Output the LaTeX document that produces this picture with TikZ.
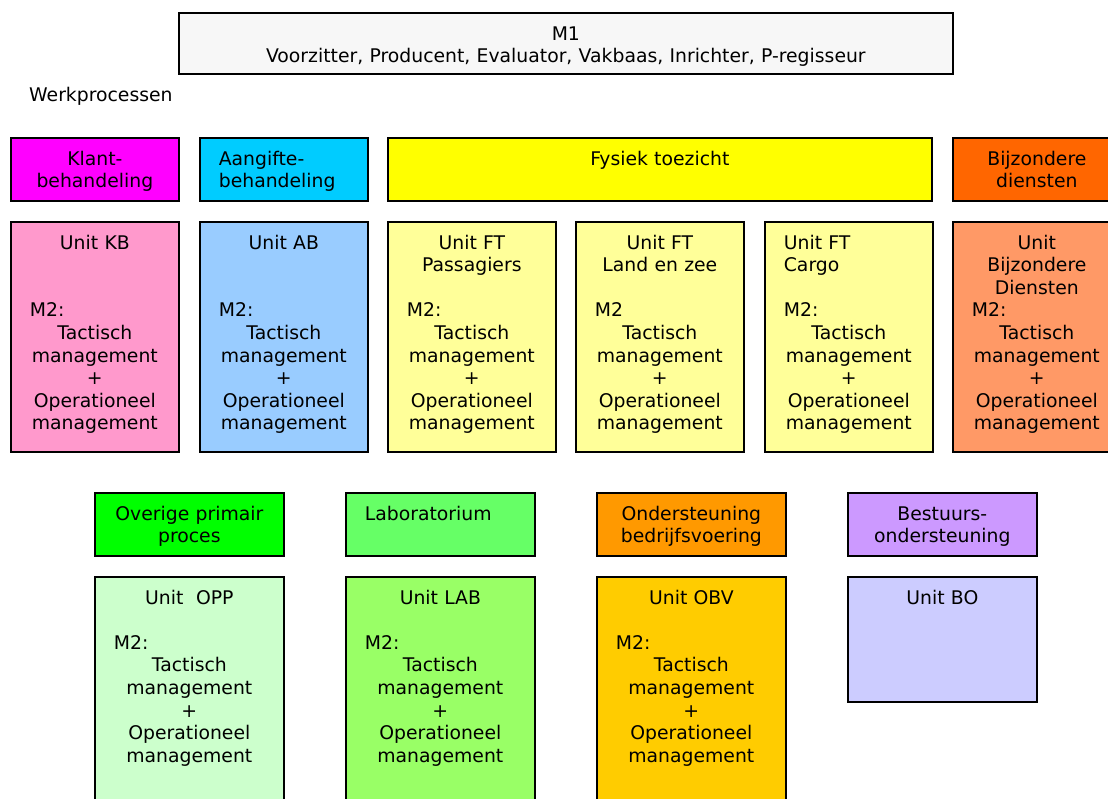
\documentclass[tikz,border=0pt]{standalone}
\usepackage{fontspec}
\setmainfont{DejaVu Sans}
\usepackage{xcolor}
\definecolor{mgrey}{HTML}{F7F7F7}
\definecolor{klant}{HTML}{FF00FF}
\definecolor{aang}{HTML}{00CCFF}
\definecolor{fysiek}{HTML}{FFFF00}
\definecolor{bijz}{HTML}{FF6600}
\definecolor{klantu}{HTML}{FF99CC}
\definecolor{aangu}{HTML}{99CCFF}
\definecolor{fysieku}{HTML}{FFFF99}
\definecolor{bijzu}{HTML}{FF9966}
\definecolor{overig}{HTML}{00FF00}
\definecolor{lab}{HTML}{66FF66}
\definecolor{onder}{HTML}{FF9900}
\definecolor{bestuur}{HTML}{CC99FF}
\definecolor{overigu}{HTML}{CCFFCC}
\definecolor{labu}{HTML}{99FF66}
\definecolor{onderu}{HTML}{FFCC00}
\definecolor{bestuuru}{HTML}{CCCCFF}
\tikzset{
  box/.style={draw=black, line width=1.7pt, anchor=north west, inner sep=0pt},
  hdrbox/.style={box, minimum height=63pt},
  unitbox/.style={box, minimum height=230pt},
  txt/.style={anchor=base, align=center, inner sep=0pt, text width=#1,
    font=\fontsize{18.8}{22.6}\selectfont},
  txt/.default=130pt,
}
\newcommand\lft[1]{\makebox[\linewidth][l]{#1}}
\newcommand\mgmt{Tactisch\\management\\+\\Operationeel\\management}

\begin{document}
\begin{tikzpicture}[x=1pt, y=-1pt]
  \useasboundingbox (0,0) rectangle (1108,798);

  % top
  \node[box, fill=mgrey, minimum width=774pt, minimum height=61pt] (m1) at (178,12) {};
  \node[txt=700pt] (m1t) at ([yshift=-28pt]m1.north) {M1\\Voorzitter, Producent, Evaluator, Vakbaas, Inrichter, P-regisseur};
  \node[txt=200pt, align=left, anchor=base west] (werk) at (29,101) {Werkprocessen};

  % werkprocessen
  \node[hdrbox, fill=klant, minimum width=168pt] (kh) at (10,137) {};
  \node[hdrbox, fill=aang, minimum width=168pt] (ah) at (199,137) {};
  \node[hdrbox, fill=fysiek, minimum width=544pt] (fh) at (387,137) {};
  \node[hdrbox, fill=bijz, minimum width=168pt] (bh) at (952,137) {};
  \node[txt] (kht) at ([yshift=-28pt]kh.north) {Klant-\\behandeling};
  \node[txt, align=left] (aht) at ([yshift=-28pt]ah.north) {Aangifte-\\behandeling};
  \node[txt=400pt] (fht) at ([yshift=-28pt]fh.north) {Fysiek toezicht};
  \node[txt] (bht) at ([yshift=-28pt]bh.north) {Bijzondere\\diensten};

  % units
  \node[unitbox, fill=klantu, minimum width=168pt] (ku) at (10,221) {};
  \node[unitbox, fill=aangu, minimum width=168pt] (au) at (199,221) {};
  \node[unitbox, fill=fysieku, minimum width=168pt] (fpu) at (387,221) {};
  \node[unitbox, fill=fysieku, minimum width=168pt] (flu) at (575,221) {};
  \node[unitbox, fill=fysieku, minimum width=168pt] (fcu) at (764,221) {};
  \node[unitbox, fill=bijzu, minimum width=168pt] (bu) at (952,221) {};
  \node[txt] (kut) at ([yshift=-28pt]ku.north) {Unit KB\\~\\~\\\lft{M2:}\\\mgmt};
  \node[txt] (aut) at ([yshift=-28pt]au.north) {Unit AB\\~\\~\\\lft{M2:}\\\mgmt};
  \node[txt] (fput) at ([yshift=-28pt]fpu.north) {Unit FT\\Passagiers\\~\\\lft{M2:}\\\mgmt};
  \node[txt] (flut) at ([yshift=-28pt]flu.north) {Unit FT\\Land en zee\\~\\\lft{M2}\\\mgmt};
  \node[txt] (fcut) at ([yshift=-28pt]fcu.north) {\lft{Unit FT}\\\lft{Cargo}\\~\\\lft{M2:}\\\mgmt};
  \node[txt] (but) at ([yshift=-28pt]bu.north) {Unit\\Bijzondere\\Diensten\\\lft{M2:}\\\mgmt};

  % overige processen
  \node[hdrbox, fill=overig, minimum width=189pt] (oh) at (94,492) {};
  \node[hdrbox, fill=lab, minimum width=189pt] (lh) at (345,492) {};
  \node[hdrbox, fill=onder, minimum width=189pt] (sh) at (596,492) {};
  \node[hdrbox, fill=bestuur, minimum width=189pt] (bsh) at (847,492) {};
  \node[txt=151pt] (oht) at ([yshift=-28pt]oh.north) {Overige primair\\proces};
  \node[txt=151pt, align=left] (lht) at ([yshift=-28pt]lh.north) {Laboratorium};
  \node[txt=151pt] (sht) at ([yshift=-28pt]sh.north) {Ondersteuning\\bedrijfsvoering};
  \node[txt=151pt] (bsht) at ([yshift=-28pt]bsh.north) {Bestuurs-\\ondersteuning};

  \node[unitbox, fill=overigu, minimum width=189pt, minimum height=240pt] (ou) at (94,576) {};
  \node[unitbox, fill=labu, minimum width=189pt, minimum height=240pt] (lu) at (345,576) {};
  \node[unitbox, fill=onderu, minimum width=189pt, minimum height=240pt] (su) at (596,576) {};
  \node[unitbox, fill=bestuuru, minimum width=189pt, minimum height=125pt] (bsu) at (847,576) {};
  \node[txt=151pt] (out) at ([yshift=-28pt]ou.north) {Unit~~OPP\\~\\\lft{M2:}\\\mgmt};
  \node[txt=151pt] (lut) at ([yshift=-28pt]lu.north) {Unit LAB\\~\\\lft{M2:}\\\mgmt};
  \node[txt=151pt] (sut) at ([yshift=-28pt]su.north) {Unit OBV\\~\\\lft{M2:}\\\mgmt};
  \node[txt=151pt] (bsut) at ([yshift=-28pt]bsu.north) {Unit BO};
\end{tikzpicture}
\end{document}
